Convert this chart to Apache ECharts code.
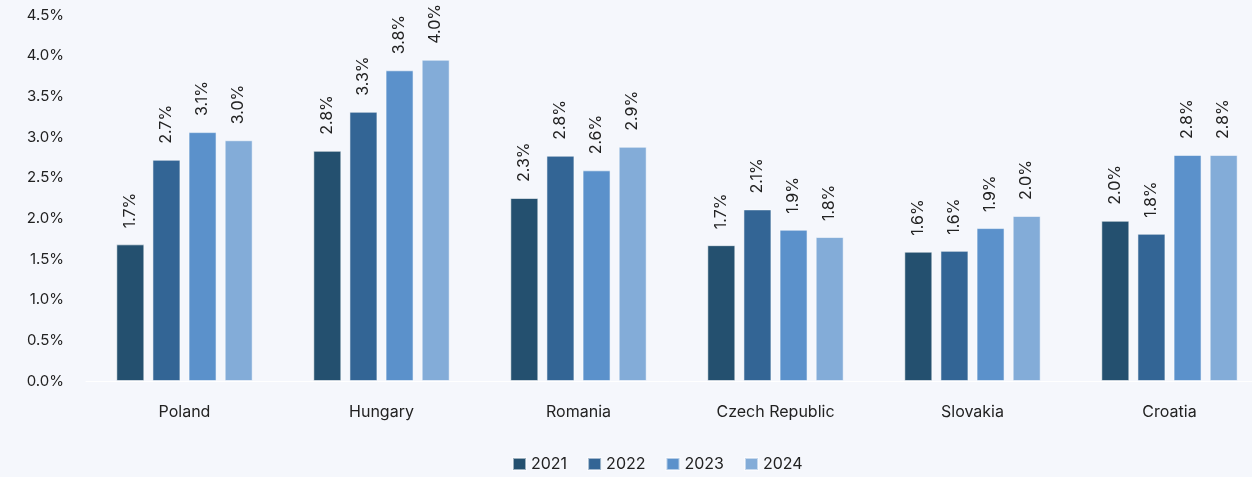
<!DOCTYPE html>
<html>
<head>
<meta charset="utf-8">
<script src="https://cdn.jsdelivr.net/npm/echarts@6/dist/echarts.min.js"></script>
<style>
html,body{margin:0;padding:0;background:#f5f7fc;}
#chart{width:1252px;height:477px;}
</style>
</head>
<body>
<div id="chart"></div>
<script>
const categories = ['Poland', 'Hungary', 'Romania', 'Czech Republic', 'Slovakia', 'Croatia'];
const years = ['2021', '2022', '2023', '2024'];
const v2021 = [1.68, 2.83, 2.25, 1.67, 1.59, 1.97];
const v2022 = [2.72, 3.31, 2.77, 2.11, 1.60, 1.81];
const v2023 = [3.06, 3.82, 2.59, 1.86, 1.88, 2.78];
const v2024 = [2.96, 3.95, 2.88, 1.77, 2.03, 2.78];
const yTicks = [0, 0.5, 1, 1.5, 2, 2.5, 3, 3.5, 4, 4.5];

const colors = ['#24506f', '#336595', '#5b91cb', '#83acd8'];
const seriesData = [v2021, v2022, v2023, v2024];
const font = 'Inter, "DejaVu Sans", sans-serif';

const chart = echarts.init(document.getElementById('chart'));
chart.setOption({
  backgroundColor: '#f5f7fc',
  animation: false,
  textStyle: { fontFamily: font },
  grid: { left: 86, width: 1182, top: 15, height: 366, containLabel: false, outerBoundsMode: 'none' },
  legend: {
    left: 507, top: 451,
    itemWidth: 13, itemHeight: 12, itemGap: 20,
    icon: 'rect',
    textStyle: { fontFamily: font, fontSize: 16, color: '#222' },
    data: years
  },
  xAxis: {
    type: 'category',
    data: categories,
    axisLine: { show: true, lineStyle: { color: '#ffffff', width: 1 } },
    axisTick: { show: false },
    axisLabel: { fontFamily: font, fontSize: 16, color: '#222', margin: 23 }
  },
  yAxis: {
    type: 'value',
    min: yTicks[0], max: yTicks[yTicks.length - 1], interval: 0.5,
    splitLine: { show: false },
    axisLine: { show: false },
    axisTick: { show: false },
    axisLabel: {
      fontFamily: font, fontSize: 15, color: '#222', margin: 22,
      formatter: v => v.toFixed(1) + '%'
    }
  },
  series: years.map((y, i) => ({
    name: y,
    type: 'bar',
    data: seriesData[i],
    barWidth: 28,
    barGap: '29%',
    itemStyle: { color: colors[i], borderColor: 'rgba(255,255,255,0.55)', borderWidth: 1 },
    label: {
      show: true,
      position: 'top',
      rotate: 90,
      align: 'left',
      verticalAlign: 'middle',
      distance: 16,
      fontFamily: font, fontSize: 16, color: '#222',
      formatter: p => p.value.toFixed(1) + '%'
    }
  }))
});
</script>
</body>
</html>
